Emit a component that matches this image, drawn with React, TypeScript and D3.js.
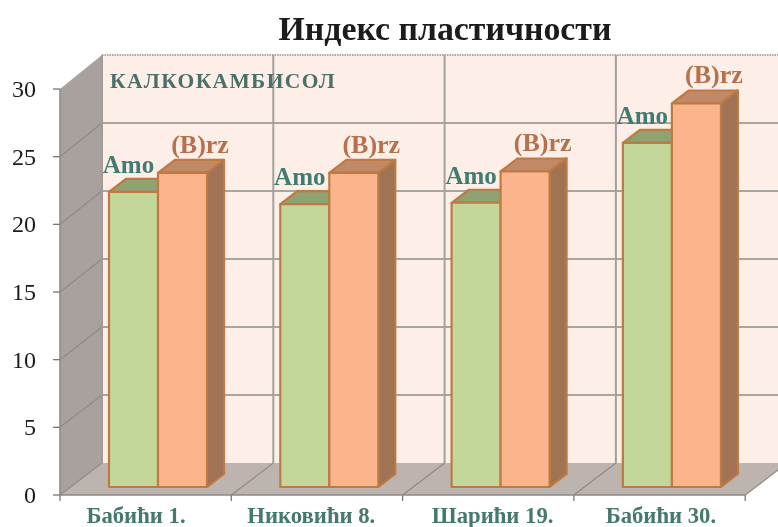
import React from "react";
import * as d3 from "d3";

const categories = ["Бабићи 1.", "Никовићи 8.", "Шарићи 19.", "Бабићи 30."];
const amoValues = [21.7, 20.8, 20.9, 25.3];
const brzValues = [23.1, 23.1, 23.2, 28.2];
const yTicks = [0, 5, 10, 15, 20, 25, 30];
const titleText = "Индекс пластичности";
const noteText = "КАЛКОКАМБИСОЛ";
const amoLabel = "Amo";
const brzLabel = "(B)rz";

const W = 778, H = 527;
const frontLeft = 60, frontBase = 495, frontTop = 89;
const depthX = 42, depthY = 32;
const step = 171.3;
const font = "'Liberation Serif', serif";
const categoryLabelShift = [76, 80, 90, 87];

export default function App() {
  const yFront = d3.scaleLinear().domain([0, 30]).range([frontBase, frontTop]);
  const yBack = d3.scaleLinear().domain([0, 30]).range([frontBase - depthY, 55]);
  const yBar = d3.scaleLinear().domain([0, 30]).range([487, 487 - 408]);
  const x = d3.scaleBand<string>().domain(categories).range([frontLeft, frontLeft + step * 4]);
  const bandTicks = [...categories.map((c) => x(c) as number), frontLeft + step * 4];
  const backBase = yBack(0);
  const wallGrid = "#a9a5a3";

  const bar = (bx: number, val: number, w: number, front: string, top: string, side: string) => {
    const yt = yBar(val), yb = yBar(0), dx = 17, dy = 13;
    const stroke = "#bd7a42";
    return (
      <g stroke={stroke} strokeWidth={2.2} strokeLinejoin="round">
        <polygon points={`${bx},${yt} ${bx + dx},${yt - dy} ${bx + w + dx},${yt - dy} ${bx + w},${yt}`} fill={top} />
        <polygon points={`${bx + w},${yt} ${bx + w + dx},${yt - dy} ${bx + w + dx},${yb - dy} ${bx + w},${yb}`} fill={side} />
        <rect x={bx} y={yt} width={w} height={yb - yt} fill={front} />
      </g>
    );
  };

  return (
    <svg width={W} height={H} viewBox={`0 0 ${W} ${H}`} style={{ position: "fixed", left: 0, top: 0, background: "#fff" }}>
      <defs>
        <filter id="soft" x="-2%" y="-2%" width="104%" height="104%">
          <feGaussianBlur stdDeviation="0.45" />
        </filter>
      </defs>
      <g filter="url(#soft)">
        <rect x={frontLeft + depthX} y={55} width={W - frontLeft - depthX} height={backBase - 55} fill="#fdeee7" />
        <line x1={frontLeft + depthX} x2={W} y1={55} y2={55} stroke="#a9a5a3" strokeWidth={2} strokeDasharray="1.5 1" />
        <polygon
          points={`${frontLeft},${yFront(30)} ${frontLeft + depthX},55 ${frontLeft + depthX},${backBase} ${frontLeft},${frontBase}`}
          fill="#a8a19d"
        />
        <polygon
          points={`${frontLeft},${frontBase} ${frontLeft + depthX},${backBase} ${W},${backBase} ${W},${backBase + 7} ${bandTicks[4]},${frontBase}`}
          fill="#bdb4b0"
        />
        {yTicks.slice(1, -1).map((t) => (
          <g key={t} stroke={wallGrid} fill="none">
            <line x1={frontLeft + depthX} x2={W} y1={yBack(t)} y2={yBack(t)} strokeWidth={2} />
            <line x1={frontLeft} y1={yFront(t)} x2={frontLeft + depthX} y2={yBack(t)} stroke="#8f8a88" strokeWidth={1.2} />
          </g>
        ))}
        {bandTicks.map((t, i) => (
          <g key={i} fill="none">
            <line x1={t + depthX} x2={t + depthX} y1={55} y2={backBase} stroke={i === 0 ? "#a19b98" : "#a3a09e"} strokeWidth={2} />
            <line x1={t} y1={frontBase} x2={t + depthX} y2={backBase} stroke="#8f8a88" strokeWidth={1.2} />
            <line x1={t} x2={t} y1={frontBase} y2={frontBase + 6} stroke="#777" strokeWidth={1.3} />
          </g>
        ))}
        <line x1={frontLeft} x2={bandTicks[4]} y1={frontBase} y2={frontBase} stroke="#8d8886" strokeWidth={1.5} />
        <line x1={frontLeft} x2={frontLeft} y1={frontTop} y2={frontBase} stroke="#8d8886" strokeWidth={1.5} />
        {yTicks.map((t) => (
          <g key={t}>
            <line x1={frontLeft - 7} x2={frontLeft} y1={yFront(t)} y2={yFront(t)} stroke="#777" strokeWidth={1.3} />
            <text x={36} y={yFront(t) + 8} textAnchor="end" fontFamily={font} fontSize={24} fill="#1a1a1a">{t}</text>
          </g>
        ))}
        {categories.map((c, i) => {
          const b0 = (x(c) as number) + 49;
          const w = 49;
          const ga = yBar(amoValues[i]);
          const gb = yBar(brzValues[i]);
          return (
            <g key={c}>
              {bar(b0, amoValues[i], w, "#c4d79b", "#8fa272", "#8fa272")}
              {bar(b0 + w, brzValues[i], w, "#fbb58c", "#c08a68", "#a07355")}
              <text x={b0 + w / 2 - 5} y={ga - 19} textAnchor="middle" fontFamily={font} fontWeight="bold" fontSize={25} fill="#3f7d70">{amoLabel}</text>
              <text x={b0 + w + w / 2 + 17.5} y={gb - 20} textAnchor="middle" fontFamily={font} fontWeight="bold" fontSize={26} fill="#b5714c">{brzLabel}</text>
              <text x={(x(c) as number) + categoryLabelShift[i]} y={523} textAnchor="middle" fontFamily={font} fontWeight="bold" fontSize={22.7} fill="#44796c">{c}</text>
            </g>
          );
        })}
        <text x={110} y={88} fontFamily={font} fontWeight="bold" fontSize={21.5} letterSpacing={1.35} fill="#4b6f6a">{noteText}</text>
        <text x={445} y={40} textAnchor="middle" fontFamily={font} fontWeight="bold" fontSize={33.8} fill="#1c1a1a">{titleText}</text>
      </g>
    </svg>
  );
}
